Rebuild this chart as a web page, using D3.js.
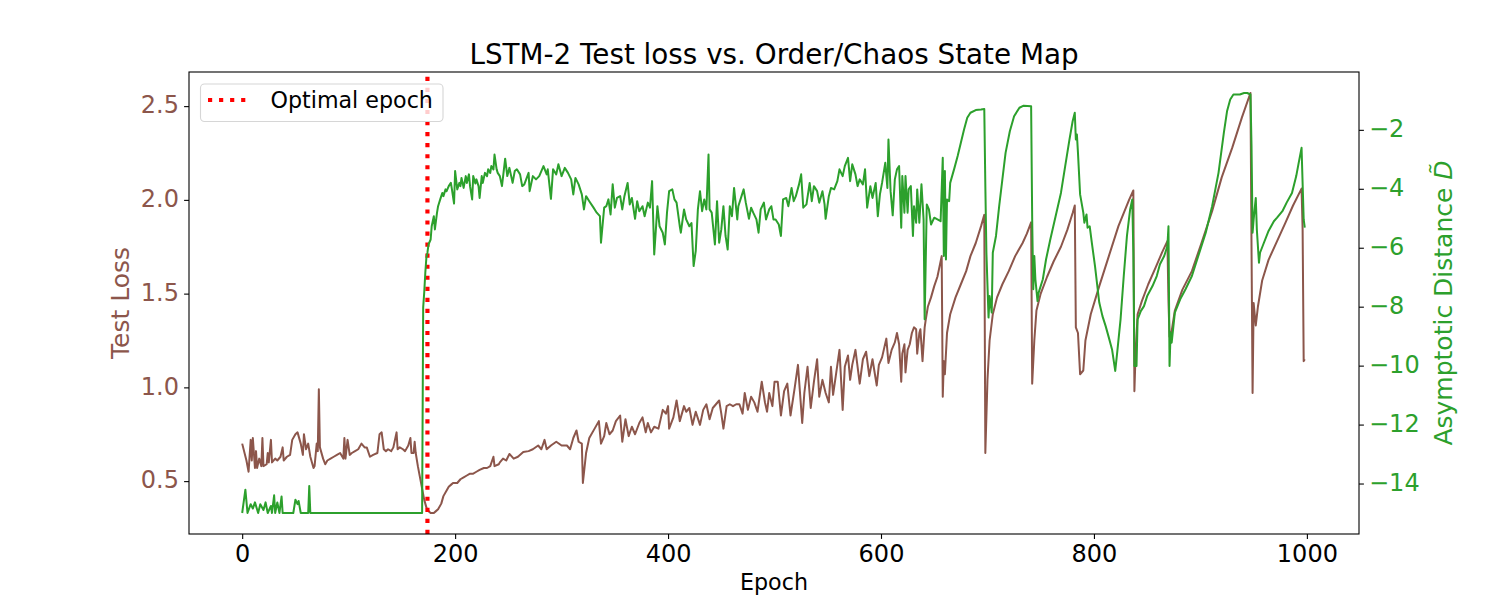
<!DOCTYPE html>
<html>
<head>
<meta charset="utf-8">
<script src="https://cdn.jsdelivr.net/npm/d3@7"></script>
<style>
  body { margin: 0; background: #fff; }
  svg { display: block; font-family: "DejaVu Sans", sans-serif; }
</style>
</head>
<body>
<div id="chart"></div>
<script>
// test loss per epoch as [epoch, loss]
const testLoss = [
  [0,0.70],[4,0.61],[6,0.55],[8,0.72],[9,0.61],[10,0.73],[12,0.57],[13,0.66],[14,0.57],[16,0.62],
  [18,0.58],[19,0.73],[20,0.58],[23,0.59],[24,0.65],[25,0.60],[27,0.72],[28,0.60],[31,0.62],[33,0.61],
  [36,0.63],[38,0.68],[39,0.61],[42,0.63],[45,0.64],[47,0.72],[50,0.75],[52,0.76],[55,0.70],[57,0.64],
  [58,0.75],[60,0.67],[62,0.70],[64,0.63],[67,0.57],[68,0.58],[70,0.70],[71,0.66],[72,0.99],[73,0.68],
  [76,0.62],[78,0.59],[80,0.61],[83,0.62],[86,0.63],[89,0.64],[92,0.65],[95,0.62],[96,0.73],[97,0.62],
  [99,0.72],[101,0.64],[103,0.65],[106,0.66],[109,0.67],[112,0.70],[115,0.68],[117,0.68],[120,0.63],[123,0.64],
  [127,0.65],[129,0.75],[131,0.76],[133,0.67],[135,0.66],[137,0.67],[140,0.66],[142,0.68],[145,0.76],[146,0.67],
  [148,0.68],[151,0.67],[153,0.66],[156,0.69],[158,0.73],[159,0.65],[161,0.65],[162,0.71],[163,0.65],[165,0.58],
  [167,0.52],[169,0.46],[171,0.40],[173,0.36],[175,0.34],[177,0.33],[180,0.33],[182,0.34],[184,0.35],[187,0.38],
  [189,0.42],[192,0.45],[194,0.47],[196,0.48],[198,0.49],[202,0.49],[205,0.51],[208,0.52],[211,0.53],[214,0.54],
  [217,0.54],[220,0.55],[223,0.56],[227,0.57],[230,0.57],[233,0.58],[236,0.63],[237,0.58],[241,0.59],[242,0.60],
  [245,0.62],[248,0.61],[251,0.645],[255,0.62],[259,0.63],[264,0.655],[269,0.66],[273,0.67],[278,0.69],[281,0.67],
  [284,0.72],[286,0.67],[290,0.69],[295,0.71],[300,0.69],[305,0.69],[308,0.67],[311,0.73],[314,0.77],[316,0.71],
  [319,0.70],[320,0.49],[323,0.65],[326,0.73],[331,0.78],[335,0.82],[337,0.70],[340,0.74],[342,0.81],[345,0.75],
  [348,0.77],[351,0.82],[355,0.85],[357,0.71],[360,0.83],[363,0.74],[366,0.79],[369,0.75],[373,0.81],[376,0.84],
  [379,0.76],[381,0.81],[384,0.76],[387,0.79],[391,0.78],[395,0.88],[398,0.86],[400,0.90],[401,0.78],[405,0.84],
  [408,0.93],[411,0.82],[415,0.90],[417,0.87],[420,0.89],[423,0.80],[426,0.87],[430,0.80],[433,0.88],[436,0.91],
  [439,0.83],[442,0.89],[445,0.91],[448,0.93],[450,0.86],[452,0.78],[455,0.90],[458,0.91],[461,0.90],[464,0.91],
  [467,0.91],[470,0.86],[472,0.97],[475,0.88],[478,0.95],[481,0.92],[484,0.87],[488,1.03],[491,0.92],[493,0.87],
  [495,0.97],[498,0.90],[500,1.03],[503,1.03],[506,0.85],[509,0.98],[512,1.02],[515,0.85],[519,1.00],[522,1.12],
  [526,0.81],[528,0.97],[531,1.11],[534,0.89],[537,1.03],[540,1.15],[542,0.95],[545,1.04],[548,0.97],[551,0.92],
  [553,1.11],[555,0.96],[558,1.08],[561,1.20],[564,0.88],[566,1.11],[569,1.17],[571,1.04],[573,1.12],[576,1.20],
  [580,1.02],[583,1.15],[586,1.19],[589,1.06],[592,1.15],[596,1.01],[598,1.12],[601,1.16],[605,1.26],[607,1.13],
  [610,1.20],[613,1.24],[615,1.29],[617,1.23],[619,1.03],[620,1.18],[622,1.23],[623,1.08],[625,1.20],[627,1.23],
  [629,1.29],[631,1.32],[633,1.31],[634,1.18],[636,1.29],[637,1.31],[639,1.14],[641,1.32],[642,1.36],[644,1.43],
  [647,1.48],[650,1.54],[653,1.59],[657,1.70],[658,0.95],[659,1.14],[660,1.07],[662,1.29],[665,1.39],[670,1.48],
  [675,1.55],[680,1.62],[684,1.70],[689,1.77],[694,1.86],[697,1.92],[698,0.65],[700,1.04],[702,1.25],[705,1.39],
  [709,1.48],[714,1.55],[720,1.62],[726,1.70],[733,1.77],[737,1.82],[741,1.88],[742,1.02],[744,1.25],[746,1.41],
  [750,1.50],[756,1.59],[762,1.67],[769,1.75],[775,1.84],[780,1.93],[782,1.97],[783,1.32],[785,1.29],[787,1.07],
  [790,1.09],[792,1.25],[797,1.39],[805,1.54],[814,1.70],[823,1.86],[833,2.00],[837,2.05],[838,0.98],[839,1.16],
  [841,1.39],[845,1.46],[851,1.55],[858,1.64],[864,1.72],[869,1.78],[870,1.46],[871,1.27],[873,1.30],[876,1.41],
  [883,1.52],[892,1.62],[901,1.77],[911,1.94],[920,2.12],[930,2.28],[939,2.44],[947,2.57],[948,1.75],[949,0.97],
  [950,1.45],[952,1.33],[954,1.43],[958,1.57],[964,1.68],[972,1.78],[980,1.88],[987,1.97],[995,2.06],[996,1.84],
  [997,1.14],[998,1.15]
];

// asymptotic distance D~ per epoch, [epoch, value]
const asymDist = [
  [0,-15],[3,-14.21],[5,-15],[8,-14.70],[10,-14.85],[12,-14.64],[15,-15],[17,-14.70],[20,-14.90],[22,-14.64],
  [24,-15],[27,-14.76],[28,-15],[30,-14.40],[31,-15],[33,-14.64],[35,-15],[37,-14.44],[38,-15],[48,-15],
  [50,-14.55],[52,-14.70],[53,-14.59],[55,-15],[62,-15],[63,-14.08],[64,-15],[169,-15],[170,-8.03],[171,-7.5],
  [172,-6.85],[173,-6.34],[174,-6.17],[175,-5.89],[177,-5.72],[178,-5.27],[180,-4.93],[181,-5.38],[183,-4.81],[184,-4.59],
  [186,-4.36],[188,-4.14],[189,-4.25],[191,-4.02],[192,-4.08],[194,-3.91],[196,-3.80],[197,-4.02],[199,-4.50],[200,-3.40],
  [202,-4.02],[204,-3.80],[205,-3.91],[206,-3.63],[208,-3.97],[210,-3.57],[211,-3.80],[213,-3.51],[214,-3.91],[216,-4.36],
  [217,-3.57],[219,-3.82],[220,-3.68],[222,-3.91],[223,-4.31],[225,-3.57],[226,-3.80],[228,-3.46],[230,-3.57],[231,-3.34],
  [233,-3.46],[234,-3.23],[236,-3.34],[237,-2.84],[239,-3.34],[240,-3.46],[242,-3.57],[244,-3.91],[247,-2.98],[249,-3.57],
  [251,-3.29],[254,-3.80],[256,-3.40],[258,-3.34],[261,-3.51],[263,-3.91],[265,-3.85],[269,-3.46],[270,-4.08],[273,-3.57],
  [276,-3.68],[279,-3.57],[283,-3.23],[286,-3.51],[287,-3.34],[290,-4.34],[292,-3.34],[295,-3.51],[297,-3.17],[300,-3.57],
  [303,-3.29],[306,-3.46],[309,-3.68],[311,-4.19],[313,-3.63],[316,-3.85],[319,-4.19],[321,-4.70],[323,-4.25],[326,-4.42],
  [330,-4.64],[333,-4.81],[336,-4.93],[337,-5.83],[340,-4.64],[342,-4.59],[344,-4.36],[346,-4.87],[348,-3.85],[350,-4.64],
  [352,-4.31],[355,-4.25],[357,-4.70],[359,-4.25],[362,-3.80],[364,-4.53],[366,-4.31],[369,-5.02],[371,-4.42],[373,-4.76],
  [376,-4.59],[378,-4.93],[381,-4.47],[383,-4.64],[385,-3.74],[387,-6.23],[390,-4.59],[392,-5.27],[395,-5.49],[397,-5.89],
  [399,-4.81],[401,-4.08],[404,-4.02],[406,-4.36],[408,-4.47],[411,-5.27],[412,-5.49],[415,-4.70],[417,-5.04],[420,-5.27],
  [422,-5.16],[424,-6.62],[426,-6.11],[428,-4.70],[430,-4.08],[432,-4.76],[434,-4.36],[436,-4.70],[438,-2.84],[439,-4.70],
  [441,-4.81],[444,-5.89],[446,-4.42],[448,-5.83],[450,-5.38],[452,-4.59],[454,-5.60],[456,-6.06],[458,-4.59],[460,-4.93],
  [462,-3.97],[465,-5.04],[466,-4.59],[469,-4.25],[471,-4.02],[473,-4.47],[476,-5.02],[478,-4.64],[480,-4.81],[483,-5.04],
  [485,-5.49],[487,-4.70],[490,-4.47],[492,-5.04],[495,-4.70],[497,-4.59],[499,-5.04],[501,-5.04],[504,-5.21],[506,-5.60],
  [508,-4.36],[511,-4.31],[513,-4.59],[516,-3.97],[518,-4.42],[520,-4.25],[523,-3.85],[525,-3.51],[527,-4.64],[530,-4.53],
  [533,-3.80],[535,-4.42],[537,-3.91],[540,-4.08],[542,-4.47],[545,-4.08],[547,-4.53],[548,-5.02],[551,-4.25],[553,-3.97],
  [556,-4.02],[559,-3.74],[561,-3.34],[564,-3.57],[566,-3.23],[569,-2.95],[571,-3.74],[573,-3.17],[576,-3.51],[578,-3.91],
  [580,-3.68],[583,-3.85],[585,-3.34],[587,-4.64],[590,-3.91],[592,-4.31],[595,-3.80],[597,-4.93],[599,-4.19],[601,-3.80],
  [604,-3.12],[606,-3.97],[607,-2.33],[609,-4.08],[611,-4.90],[613,-3.68],[615,-3.34],[617,-3.23],[619,-5.32],[620,-3.57],
  [622,-4.81],[623,-3.57],[625,-4.81],[626,-4.02],[628,-3.91],[630,-5.60],[631,-4.59],[633,-5.15],[634,-4.02],[636,-5.15],
  [638,-3.85],[640,-5.04],[641,-8.43],[643,-4.53],[645,-4.70],[647,-5.21],[650,-4.98],[653,-5.04],[656,-5.10],[658,-2.95],
  [659,-6.28],[660,-3.40],[661,-6.40],[662,-4.36],[664,-4.42],[665,-3.80],[669,-3.29],[672,-2.89],[675,-2.44],[678,-1.99],
  [681,-1.59],[684,-1.42],[689,-1.33],[694,-1.31],[697,-1.29],[698,-3.91],[699,-6.17],[701,-8.37],[702,-7.64],[704,-8.20],
  [705,-6.17],[708,-5.60],[711,-4.59],[714,-3.68],[717,-2.78],[721,-2.05],[725,-1.54],[730,-1.25],[734,-1.18],[741,-1.20],
  [742,-5.04],[743,-7.41],[744,-6.28],[745,-7.07],[747,-7.81],[748,-7.53],[752,-7.07],[755,-6.40],[759,-5.72],[764,-4.93],
  [769,-4.14],[773,-3.23],[777,-2.33],[780,-1.71],[782,-1.42],[783,-2.33],[784,-2.16],[785,-2.78],[787,-4.19],[790,-4.81],
  [791,-5.15],[793,-4.87],[794,-5.32],[796,-5.27],[798,-5.83],[801,-6.62],[805,-7.86],[808,-8.32],[811,-8.66],[814,-9.05],
  [817,-9.45],[820,-10.18],[822,-9.50],[825,-8.43],[828,-6.96],[831,-5.60],[834,-4.70],[836,-4.36],[837,-6.17],[838,-10.01],
  [840,-10.01],[841,-8.43],[844,-8.15],[847,-7.98],[850,-7.64],[855,-7.30],[859,-6.96],[862,-6.56],[866,-6.28],[869,-5.94],
  [870,-5.27],[871,-10.01],[872,-8.88],[873,-9.22],[876,-8.20],[881,-7.75],[886,-7.41],[892,-6.96],[898,-6.28],[905,-5.49],
  [911,-4.59],[917,-3.46],[922,-2.10],[925,-1.37],[928,-0.97],[931,-0.80],[934,-0.80],[937,-0.80],[941,-0.75],[944,-0.75],
  [947,-0.80],[948,-2.55],[949,-5.49],[950,-5.04],[952,-4.31],[953,-5.38],[955,-6.51],[956,-6.17],[959,-5.89],[964,-5.43],
  [969,-5.10],[972,-4.98],[977,-4.76],[981,-4.47],[986,-4.14],[990,-3.57],[992,-3.18],[995,-2.61],[997,-5.04],[998,-5.32]
];

const epochRange = [0, 999];
const optimalEpoch = 174;
const epochTicks = [0, 200, 400, 600, 800, 1000];
const lossTicks = [0.5, 1.0, 1.5, 2.0, 2.5];
const distTicks = [-14, -12, -10, -8, -6, -4, -2];

const width = 1510, height = 600;
const box = { left: 189, right: 1359, top: 72, bottom: 534 };
const brown = "#8c564b", green = "#2ca02c";
const tickFont = 24;

// matplotlib style 5% margins around the data
const padded = (vals) => {
  const [lo, hi] = d3.extent(vals);
  const p = (hi - lo) * 0.05;
  return [lo - p, hi + p];
};

const x = d3.scaleLinear().domain(padded(epochRange)).range([box.left, box.right]);
const yLoss = d3.scaleLinear().domain(padded(testLoss.map(d => d[1]))).range([box.bottom, box.top]);
const yDist = d3.scaleLinear().domain(padded(asymDist.map(d => d[1]))).range([box.bottom, box.top]);

const svg = d3.select("#chart").append("svg")
  .attr("width", width)
  .attr("height", height);

svg.append("rect").attr("width", width).attr("height", height).attr("fill", "#fff");

// test loss line (first axes)
svg.append("path")
  .datum(testLoss)
  .attr("fill", "none")
  .attr("stroke", brown)
  .attr("stroke-width", 2)
  .attr("stroke-linejoin", "round")
  .attr("d", d3.line().x(d => x(d[0])).y(d => yLoss(d[1])));

// optimal epoch marker, dashes start from the bottom like axvline
svg.append("line")
  .attr("x1", x(optimalEpoch)).attr("x2", x(optimalEpoch))
  .attr("y1", box.bottom).attr("y2", box.top)
  .attr("stroke", "red")
  .attr("stroke-width", 4.17)
  .attr("stroke-dasharray", "4.17 6.88");

// legend
const legend = svg.append("g");
legend.append("rect")
  .attr("x", 200.5).attr("y", 84)
  .attr("width", 242.5).attr("height", 37.5)
  .attr("rx", 4)
  .attr("fill", "#fff").attr("fill-opacity", 0.8)
  .attr("stroke", "#d6d6d6").attr("stroke-width", 1.1);
legend.append("line")
  .attr("x1", 208).attr("x2", 247)
  .attr("y1", 100).attr("y2", 100)
  .attr("stroke", "red")
  .attr("stroke-width", 4.17)
  .attr("stroke-dasharray", "4.17 6.88");
legend.append("text")
  .attr("x", 270.5).attr("y", 107.5)
  .attr("font-size", 22.2)
  .attr("fill", "#000")
  .text("Optimal epoch");

// asymptotic distance line (twin axes, drawn on top)
svg.append("path")
  .datum(asymDist)
  .attr("fill", "none")
  .attr("stroke", green)
  .attr("stroke-width", 2)
  .attr("stroke-linejoin", "round")
  .attr("d", d3.line().x(d => x(d[0])).y(d => yDist(d[1])));

// frame
svg.append("rect")
  .attr("x", box.left).attr("y", box.top)
  .attr("width", box.right - box.left).attr("height", box.bottom - box.top)
  .attr("fill", "none")
  .attr("stroke", "#000")
  .attr("stroke-width", 1.1);

const styleAxis = (g, color) => {
  g.select(".domain").remove();
  g.selectAll(".tick line").attr("stroke", "#000").attr("stroke-width", 1.1);
  g.selectAll(".tick text")
    .attr("fill", color)
    .attr("font-size", tickFont)
    .attr("font-family", "DejaVu Sans");
};

svg.append("g")
  .attr("transform", `translate(0,${box.bottom})`)
  .call(d3.axisBottom(x).tickValues(epochTicks).tickSize(4.9).tickFormat(d3.format("d")))
  .call(g => styleAxis(g, "#000"))
  .call(g => g.selectAll(".tick text").attr("y", 28).attr("dy", null));

svg.append("g")
  .attr("transform", `translate(${box.left},0)`)
  .call(d3.axisLeft(yLoss).tickValues(lossTicks).tickSize(4.9).tickFormat(d3.format(".1f")))
  .call(g => styleAxis(g, brown))
  .call(g => g.selectAll(".tick text").attr("x", -10).attr("dy", "0.28em"));

const minus = d => (d < 0 ? "\u2212" : "") + Math.abs(d);
svg.append("g")
  .attr("transform", `translate(${box.right},0)`)
  .call(d3.axisRight(yDist).tickValues(distTicks).tickSize(4.9).tickFormat(minus))
  .call(g => styleAxis(g, green))
  .call(g => g.selectAll(".tick text").attr("x", 10).attr("dy", "0.28em"));

// titles and labels
svg.append("text")
  .attr("x", (box.left + box.right) / 2).attr("y", 64)
  .attr("text-anchor", "middle")
  .attr("font-size", 27.8)
  .text("LSTM-2 Test loss vs. Order/Chaos State Map");

svg.append("text")
  .attr("x", (box.left + box.right) / 2).attr("y", 590)
  .attr("text-anchor", "middle")
  .attr("font-size", 22.2)
  .text("Epoch");

svg.append("text")
  .attr("transform", `translate(129,${(box.top + box.bottom) / 2}) rotate(-90)`)
  .attr("text-anchor", "middle")
  .attr("font-size", 25)
  .attr("fill", brown)
  .text("Test Loss");

const rLabel = svg.append("text")
  .attr("transform", `translate(1452,${(box.top + box.bottom) / 2}) rotate(-90)`)
  .attr("text-anchor", "middle")
  .attr("font-size", 25)
  .attr("fill", green);
rLabel.append("tspan").text("Asymptotic Distance ");
rLabel.append("tspan").attr("font-style", "italic").text("D\u0303");
</script>
</body>
</html>
